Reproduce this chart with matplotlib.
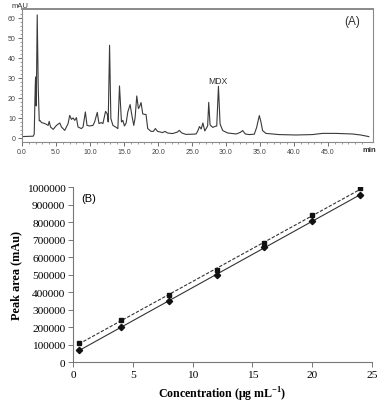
import numpy as np
import matplotlib as mpl
import matplotlib.pyplot as plt

mpl.rcParams['mathtext.fontset'] = 'custom'
mpl.rcParams['mathtext.rm'] = 'Liberation Serif'
mpl.rcParams['mathtext.bf'] = 'Liberation Serif:bold'

# (A) chromatogram trace: time (min), absorbance (mAU)
trace_t = [0.0, 1.66, 1.80, 1.95, 2.0, 2.10, 2.24, 2.39, 2.54, 2.63, 2.88, 3.37,
           3.85, 4.0, 4.2, 4.59, 5.07, 5.56, 5.80, 6.29, 6.78, 7.02, 7.27, 7.51,
           7.76, 8.0, 8.24, 8.73, 8.98, 9.32, 9.56, 9.95, 10.44, 10.68, 11.07,
           11.32, 11.66, 11.9, 12.29, 12.54, 12.68, 12.88, 13.07, 13.37, 13.76,
           14.1, 14.34, 14.63, 14.83, 15.07, 15.32, 15.56, 15.9, 16.2, 16.44,
           16.63, 16.88, 17.12, 17.27, 17.51, 17.76, 18.24, 18.49, 18.98, 19.32,
           19.61, 19.95, 20.68, 21.02, 21.41, 22.15, 22.88, 23.12, 23.51, 24.1,
           25.07, 25.6, 25.85, 26.1, 26.35, 26.6, 26.88, 27.17, 27.3, 27.46,
           27.66, 28.05, 28.4, 28.64, 28.89, 29.13, 29.52, 30.25, 31.5, 32.1,
           32.45, 32.84, 33.43, 34.16, 34.5, 34.9, 35.14, 35.38, 35.87, 37.8,
           40.3, 42.7, 44.2, 46.1, 48.6, 49.8, 51.0]
trace_v = [0.7, 0.9, 2.0, 26.0, 30.5, 16.0, 61.5, 25.0, 8.5, 8.8, 7.7, 7.2,
           6.3, 8.3, 5.5, 4.3, 6.3, 7.5, 5.5, 3.8, 7.2, 11.3, 9.3, 10.0,
           8.8, 10.2, 5.5, 4.7, 5.5, 13.0, 6.3, 6.0, 6.3, 8.0, 12.8,
           7.2, 7.7, 7.2, 13.3, 12.0, 8.0, 46.3, 9.7, 6.3, 5.5,
           4.7, 26.0, 8.0, 8.8, 6.0, 7.5, 13.0, 16.7, 10.5, 6.3,
           10.0, 21.0, 14.7, 15.5, 17.7, 12.0, 11.7, 4.7, 3.3, 3.3,
           4.7, 3.3, 2.7, 3.3, 2.5, 2.2, 3.0, 3.8, 2.5, 1.8,
           1.9, 2.0, 3.5, 5.7, 4.5, 7.5, 3.5, 5.2, 6.0, 17.8,
           6.5, 5.3, 5.8, 6.0, 25.8, 7.0, 3.7, 2.5, 2.0, 2.8,
           3.7, 2.0, 1.7, 1.9, 5.2, 11.2, 8.0, 3.7, 2.3, 1.7,
           1.5, 1.7, 2.3, 2.3, 2.0, 1.5, 0.7]

# (B) calibration data
conc = [0.5, 4, 8, 12, 16, 20, 24]
area_solid = [68000, 198000, 347000, 495000, 657000, 807000, 954000]
area_dashed = [108000, 240000, 381000, 527000, 678000, 840000, 992000]

fig = plt.figure(figsize=(3.81, 4.02), dpi=100)

# ---- panel A ----
axa = fig.add_axes([0.0577, 0.6443, 0.921, 0.3296])
gray = '#8a8a8a'
axa.plot(trace_t, trace_v, color='#3a3a3a', lw=0.8)
axa.set_xlim(0, 51.6)
axa.set_ylim(-2, 64.2)
axa.set_xticks(np.arange(0, 50, 5))
axa.set_xticks(np.arange(0, 51, 1), minor=True)
axa.set_xticklabels([f'{v:.1f}' for v in np.arange(0, 50, 5)])
axa.set_yticks(np.arange(0, 61, 10))
axa.set_yticks(np.arange(0, 63, 2), minor=True)
for s in axa.spines.values():
    s.set_color(gray)
    s.set_linewidth(0.8)
axa.spines['top'].set_linewidth(1.4)
axa.tick_params(axis='both', which='major', labelsize=5, colors='#555555',
                length=3, width=0.6, pad=1.5, labelcolor='#444444')
axa.tick_params(axis='both', which='minor', length=1.5, width=0.5, colors='#777777')
for lab in axa.get_xticklabels() + axa.get_yticklabels():
    lab.set_family('Liberation Sans')
axa.text(28.8, 28.5, 'MDX', ha='center', va='center', fontsize=6.2,
         family='Liberation Sans', color='#333333')
axa.text(0.965, 0.955, '(A)', transform=axa.transAxes, ha='right', va='top',
         fontsize=8.5, family='Liberation Sans', color='#333333')
fig.text(20 / 381, 1 - 6.5 / 402, 'mAU', ha='center', va='center', fontsize=5.5,
         family='Liberation Sans', color='#333333')
fig.text(369 / 381, 1 - 151 / 402, 'min', ha='center', va='center', fontsize=5.5,
         family='Liberation Sans', color='#333333', weight='bold')

# ---- panel B ----
axb = fig.add_axes([0.1916, 0.097, 0.7848, 0.4353])
for y, mk, ls, ms in [(area_solid, 'D', '-', 3.2), (area_dashed, 's', '--', 3.4)]:
    k, b = np.polyfit(conc, y, 1)
    xs = np.array([conc[0], conc[-1]])
    axb.plot(xs, k * xs + b, color='#333333', lw=0.8, ls=ls, dashes=(3, 1.5) if ls == '--' else (None, None))
    axb.plot(conc, y, ls='none', marker=mk, ms=ms, color='#111111')
axb.set_xlim(0, 25)
axb.set_ylim(0, 1000000)
axb.set_xticks([0, 5, 10, 15, 20, 25])
axb.set_yticks(np.arange(0, 1000001, 100000))
axb.set_yticklabels([str(v) for v in range(0, 1000001, 100000)])
axb.spines['top'].set_visible(False)
axb.spines['right'].set_visible(False)
for s in ['left', 'bottom']:
    axb.spines[s].set_color('#777777')
    axb.spines[s].set_linewidth(0.8)
axb.tick_params(axis='both', labelsize=8.2, length=3.5, width=0.7, colors='#777777',
                labelcolor='black', pad=2)
for lab in axb.get_xticklabels() + axb.get_yticklabels():
    lab.set_family('Liberation Serif')
axb.set_ylabel('Peak area (mAu)', family='Liberation Serif', weight='bold',
               fontsize=8.8, labelpad=3)
axb.set_xlabel(r'Concentration (μg mL$^{\mathbf{-1}}$)', family='Liberation Serif',
               weight='bold', fontsize=8.6, labelpad=4)
axb.text(89 / 381, 1 - 199 / 402, '(B)', transform=fig.transFigure, ha='center',
         va='center', fontsize=8, family='Liberation Sans')

fig.savefig('out.png', dpi=100)
